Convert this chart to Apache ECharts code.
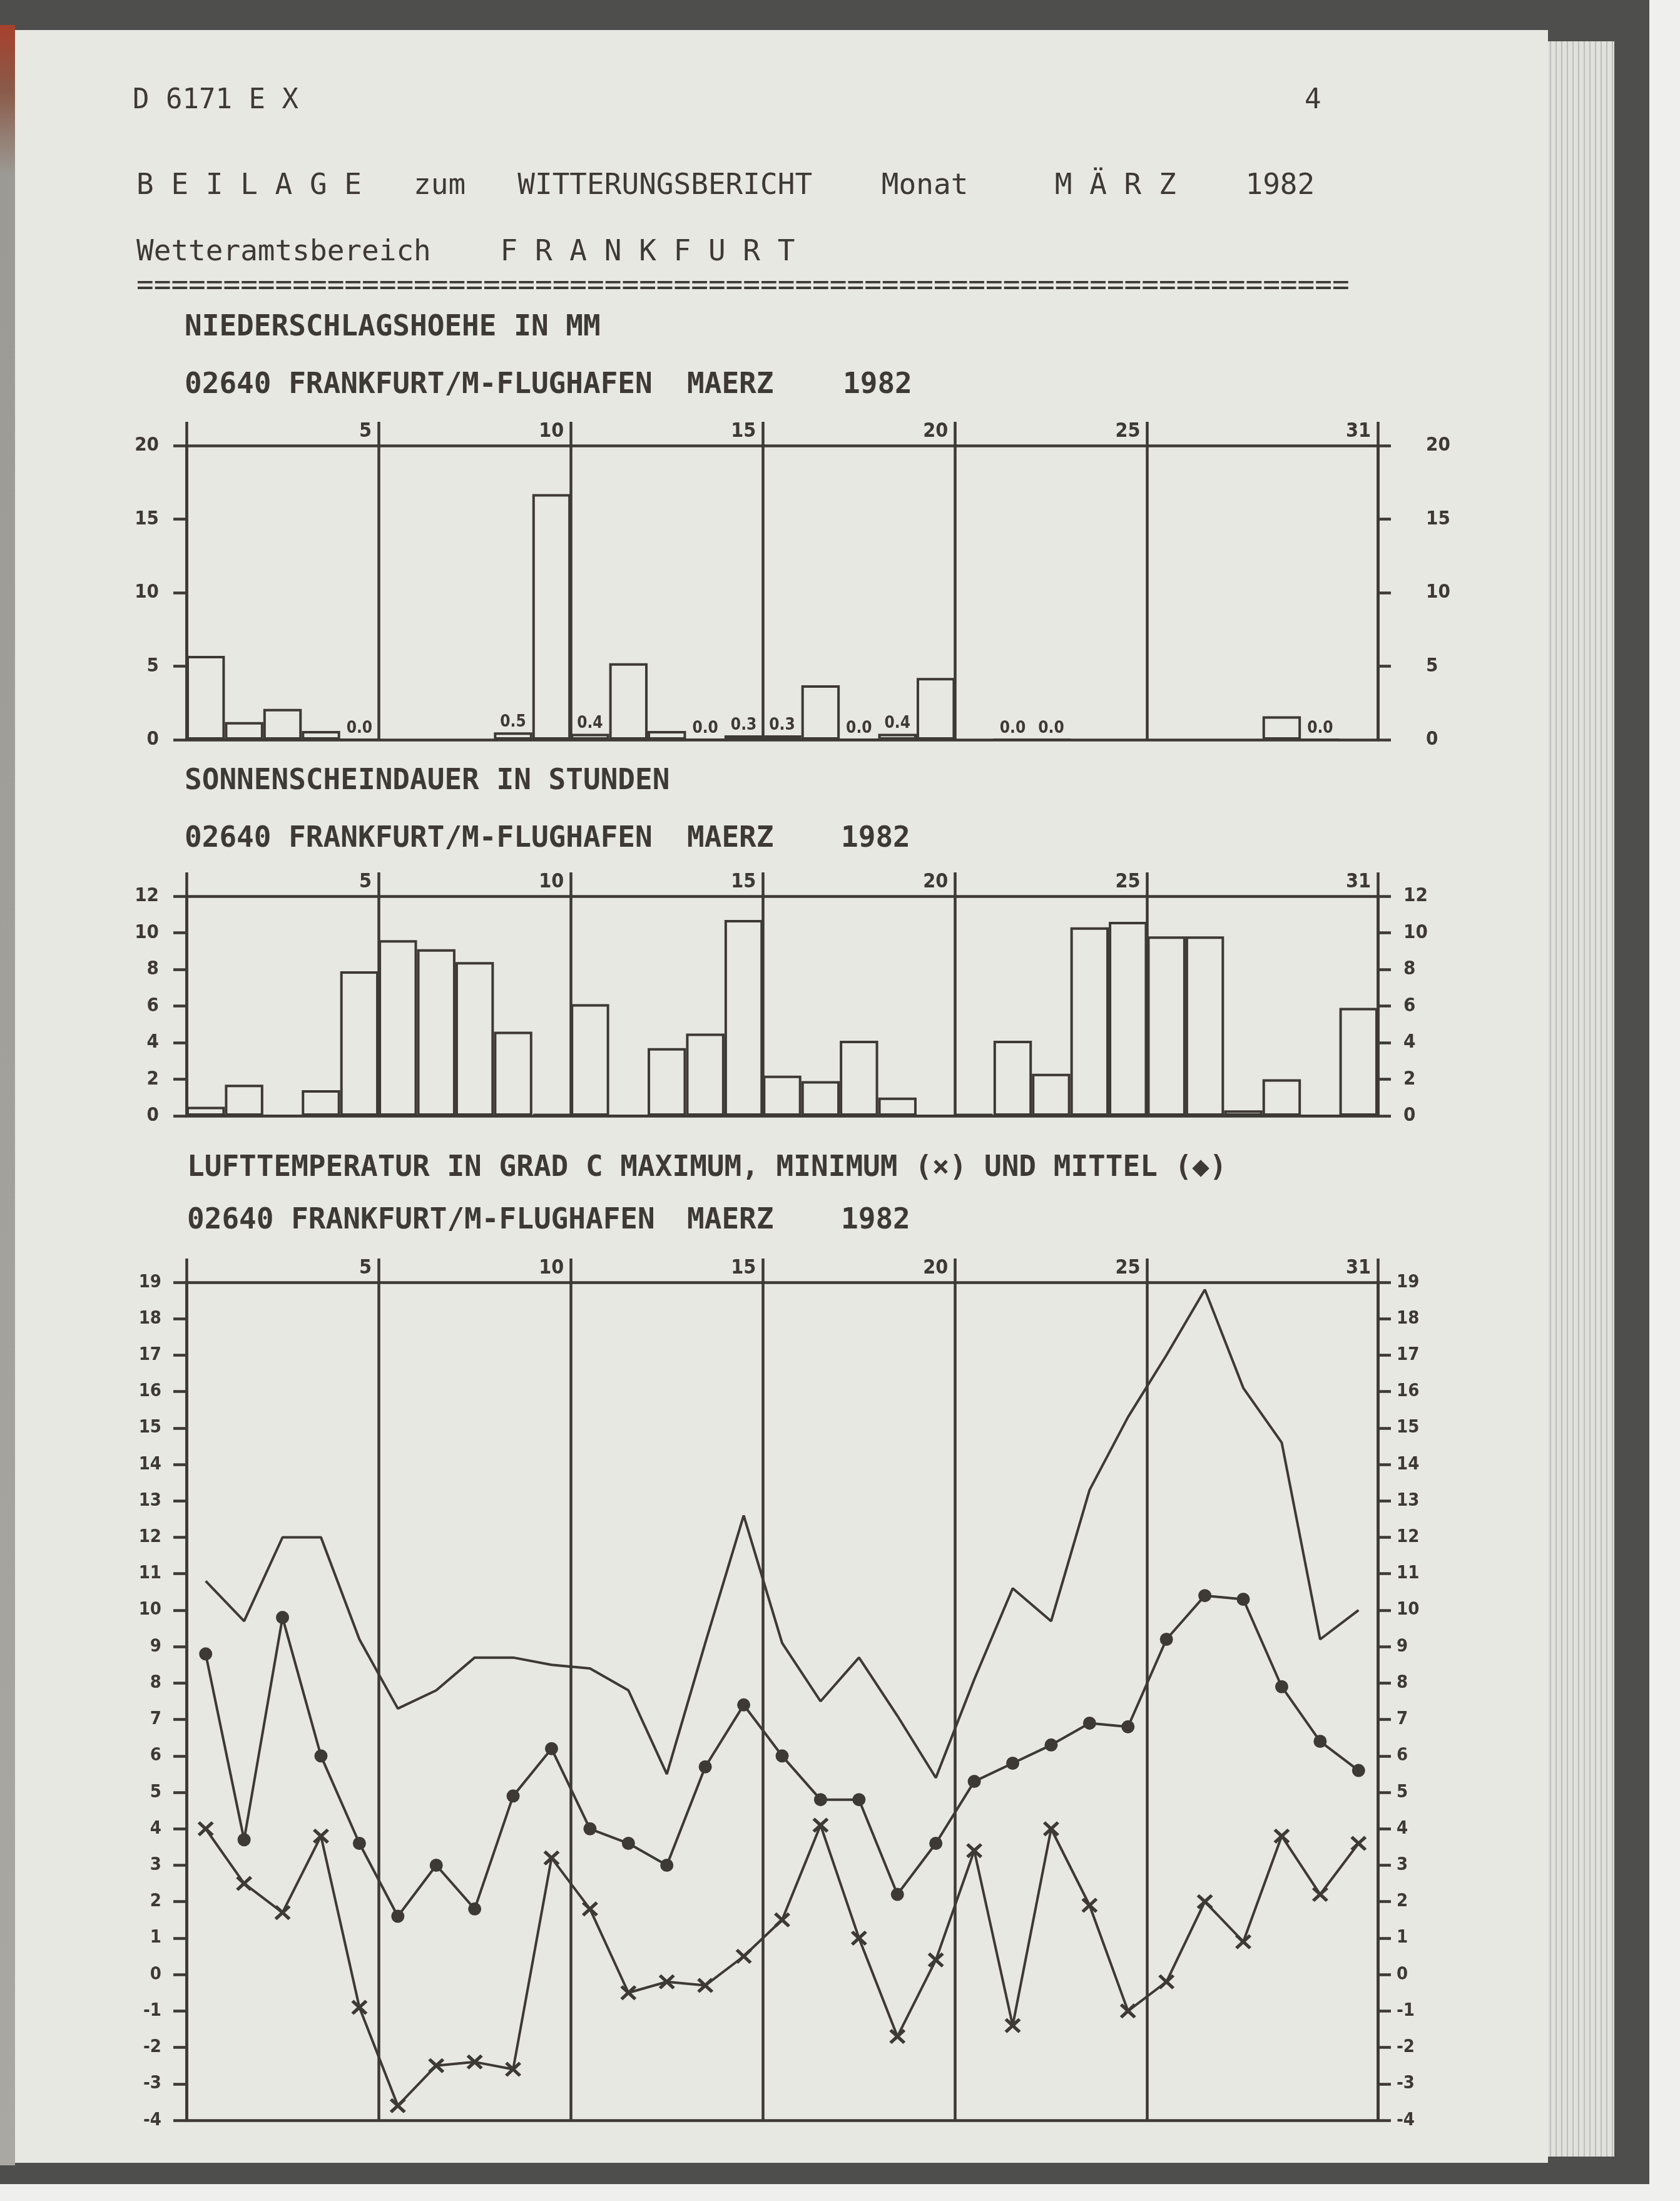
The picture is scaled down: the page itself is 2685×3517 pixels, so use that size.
<!DOCTYPE html>
<html><head><meta charset="utf-8">
<script src="https://cdn.jsdelivr.net/npm/echarts@6/dist/echarts.min.js"></script>
<style>
html,body{margin:0;padding:0;}
body{width:2685px;height:3517px;position:relative;background:#efefed;overflow:hidden;}
#frame{position:absolute;left:0;top:0;width:2636px;height:3490px;background:#4e4e4c;}
#spine{position:absolute;left:0;top:40px;width:24px;height:3420px;background:linear-gradient(#a8402e 0,#8a5a48 3%,#9c9a94 7%,#a9a8a2 100%);}
#edges{position:absolute;left:2470px;top:66px;width:110px;height:3380px;background:repeating-linear-gradient(90deg,#e0e0dc 0,#e0e0dc 7px,#bdbdb9 7px,#bdbdb9 9px);}
#page{position:absolute;left:24px;top:48px;width:2450px;height:3408px;background:#e8e8e2;}
#chart{position:absolute;left:0;top:0;width:2685px;height:3517px;}
</style></head>
<body>
<div id="frame"></div><div id="spine"></div><div id="edges"></div><div id="page"></div>
<div id="chart"></div>
<script>
// ---- data ----
const days = Array.from({length: 31}, (_, i) => String(i + 1));
const dayMarks = [5, 10, 15, 20, 25, 31];
const precip = [5.7, 1.2, 2.1, 0.6, 0.0, null, null, null, 0.5, 16.7, 0.4, 5.2, 0.6, 0.0, 0.3, 0.3,
                3.7, 0.0, 0.4, 4.2, null, 0.0, 0.0, null, null, null, null, null, 1.6, 0.0, null];
const sunshine = [0.5, 1.7, 0, 1.4, 7.9, 9.6, 9.1, 8.4, 4.6, 0.1, 6.1, 0, 3.7, 4.5, 10.7, 2.2,
                  1.9, 4.1, 1.0, 0, 0.1, 4.1, 2.3, 10.3, 10.6, 9.8, 9.8, 0.3, 2.0, 0, 5.9];
const tMax = [10.8, 9.7, 12.0, 12.0, 9.2, 7.3, 7.8, 8.7, 8.7, 8.5, 8.4, 7.8, 5.5, 9.1, 12.6, 9.1,
              7.5, 8.7, 7.1, 5.4, 8.1, 10.6, 9.7, 13.3, 15.3, 17.0, 18.8, 16.1, 14.6, 9.2, 10.0];
const tMin = [4.0, 2.5, 1.7, 3.8, -0.9, -3.6, -2.5, -2.4, -2.6, 3.2, 1.8, -0.5, -0.2, -0.3, 0.5, 1.5,
              4.1, 1.0, -1.7, 0.4, 3.4, -1.4, 4.0, 1.9, -1.0, -0.2, 2.0, 0.9, 3.8, 2.2, 3.6];
const tMean = [8.8, 3.7, 9.8, 6.0, 3.6, 1.6, 3.0, 1.8, 4.9, 6.2, 4.0, 3.6, 3.0, 5.7, 7.4, 6.0,
               4.8, 4.8, 2.2, 3.6, 5.3, 5.8, 6.3, 6.9, 6.8, 9.2, 10.4, 10.3, 7.9, 6.4, 5.6];

// ---- texts ----
const headerTexts = [
  {text: 'D 6171 E X', x: 212, base: 177, size: 44, bold: false},
  {text: '4', x: 2085, base: 177, size: 44, bold: false},
  {text: 'B E I L A G E   zum   WITTERUNGSBERICHT    Monat     M Ä R Z    1982', x: 218, base: 314, size: 46, bold: false},
  {text: 'Wetteramtsbereich    F R A N K F U R T', x: 218, base: 420, size: 46, bold: false},
  {text: '='.repeat(70), x: 218, base: 474, size: 46, bold: false},
  {text: 'NIEDERSCHLAGSHOEHE IN MM', x: 295, base: 540, size: 46, bold: true},
  {text: '02640 FRANKFURT/M-FLUGHAFEN', x: 295, base: 632, size: 46, bold: true},
  {text: 'MAERZ', x: 1098, base: 632, size: 46, bold: true},
  {text: '1982', x: 1347, base: 632, size: 46, bold: true},
  {text: 'SONNENSCHEINDAUER IN STUNDEN', x: 295, base: 1265, size: 46, bold: true},
  {text: '02640 FRANKFURT/M-FLUGHAFEN', x: 295, base: 1357, size: 46, bold: true},
  {text: 'MAERZ', x: 1098, base: 1357, size: 46, bold: true},
  {text: '1982', x: 1344, base: 1357, size: 46, bold: true},
  {text: 'LUFTTEMPERATUR IN GRAD C MAXIMUM, MINIMUM (×) UND MITTEL (◆)', x: 299, base: 1883, size: 46, bold: true},
  {text: '02640 FRANKFURT/M-FLUGHAFEN', x: 299, base: 1967, size: 46, bold: true},
  {text: 'MAERZ', x: 1098, base: 1967, size: 46, bold: true},
  {text: '1982', x: 1344, base: 1967, size: 46, bold: true}
];

const C = '#3d3935';
const TF = "'DejaVu Sans Condensed','DejaVu Sans'";
const MONO = "'DejaVu Sans Mono'";

const grids = [
  {left: 298, top: 712, width: 1904, height: 470},
  {left: 298, top: 1432, width: 1904, height: 351},
  {left: 298, top: 2049, width: 1904, height: 1339}
];
const yCfg = [
  {min: 0, max: 20, interval: 5, lm: 44, rm: 77, fs: 31},
  {min: 0, max: 12, interval: 2, lm: 44, rm: 41, fs: 31},
  {min: -4, max: 19, interval: 1, lm: 40, rm: 30, fs: 29}
];

const xAxes = [], yAxes = [];
grids.forEach((g, i) => {
  xAxes.push({
    type: 'category', gridIndex: i, data: days, position: 'bottom', boundaryGap: true,
    axisLine: {show: true, onZero: false, lineStyle: {color: C, width: 4.5}},
    axisTick: {show: false}, axisLabel: {show: false}, splitLine: {show: false}
  });
  xAxes.push({
    type: 'value', gridIndex: i, min: 0, max: 31, position: 'bottom',
    axisLine: {show: false, onZero: false},
    axisTick: {show: true, inside: true, length: g.height + 38, customValues: [0].concat(dayMarks),
               lineStyle: {color: C, width: 4.5}},
    axisLabel: {show: false}, splitLine: {show: false}
  });
  xAxes.push({
    type: 'value', gridIndex: i, min: 0, max: 31, position: 'top',
    axisLine: {show: true, onZero: false, lineStyle: {color: C, width: 4.5}},
    axisTick: {show: false},
    axisLabel: {show: true, customValues: dayMarks, align: 'right', padding: [0, 11, 0, 0], margin: 6,
                fontSize: 32, fontWeight: 'bold', fontFamily: TF, color: C,
                formatter: v => String(v)},
    splitLine: {show: false}
  });
  const y = yCfg[i];
  ['left', 'right'].forEach(pos => {
    yAxes.push({
      type: 'value', gridIndex: i, min: y.min, max: y.max, interval: y.interval, position: pos,
      axisLine: {show: true, onZero: false, lineStyle: {color: C, width: 4.5}},
      axisTick: {show: true, length: 21, lineStyle: {color: C, width: 4.5}},
      axisLabel: {margin: pos === 'left' ? y.lm : y.rm, fontSize: y.fs, fontWeight: 'bold', fontFamily: TF, color: C},
      splitLine: {show: false}
    });
  });
});

const precipData = precip.map(v => v === null ? '-' : {value: v, label: {show: v <= 0.5}});
const barStyle = {color: 'rgba(0,0,0,0)', borderColor: C, borderWidth: 4};
const xPath = 'path://M0,3 L3,0 L10,7 L17,0 L20,3 L13,10 L20,17 L17,20 L10,13 L3,20 L0,17 L7,10 Z';

const graphic = headerTexts.map(t => ({
  type: 'text', x: t.x, y: t.base - 0.346 * t.size, silent: true,
  style: {text: t.text, fill: C, fontSize: t.size, fontFamily: MONO,
          fontWeight: t.bold ? 'bold' : 'normal', verticalAlign: 'middle', align: 'left'}
}));

const option = {
  backgroundColor: 'transparent',
  animation: false,
  grid: grids,
  xAxis: xAxes,
  yAxis: yAxes,
  graphic: graphic,
  series: [
    {type: 'bar', xAxisIndex: 0, yAxisIndex: 0, data: precipData, barCategoryGap: '0%', barGap: '0%',
     itemStyle: barStyle,
     label: {show: false, position: 'top', distance: 3, fontSize: 26, fontWeight: 'bold', fontFamily: TF, color: C,
             formatter: p => Number(p.value).toFixed(1)}},
    {type: 'bar', xAxisIndex: 3, yAxisIndex: 2, data: sunshine, barCategoryGap: '0%', barGap: '0%',
     itemStyle: barStyle},
    {type: 'line', xAxisIndex: 6, yAxisIndex: 4, data: tMax, symbol: 'none',
     lineStyle: {color: C, width: 4}},
    {type: 'line', xAxisIndex: 6, yAxisIndex: 4, data: tMin, symbol: xPath, symbolSize: [26, 24],
     showAllSymbol: true, itemStyle: {color: C, borderWidth: 0}, lineStyle: {color: C, width: 4}},
    {type: 'line', xAxisIndex: 6, yAxisIndex: 4, data: tMean, symbol: 'circle', symbolSize: 21,
     showAllSymbol: true, itemStyle: {color: C, borderWidth: 0}, lineStyle: {color: C, width: 4}}
  ]
};
const chart = echarts.init(document.getElementById('chart'), null, {renderer: 'canvas'});
chart.setOption(option);
</script>
</body></html>
